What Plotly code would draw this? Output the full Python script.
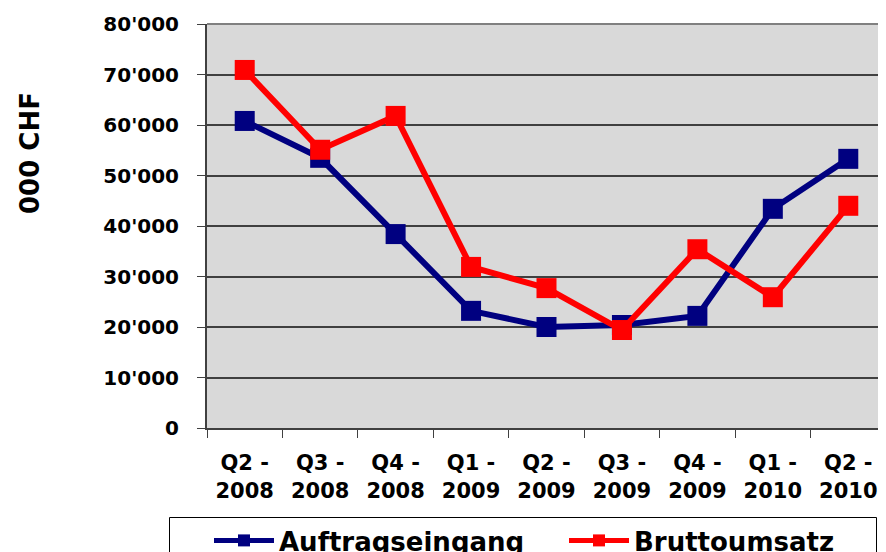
import plotly.graph_objects as go

categories = ["Q2 -<br>2008", "Q3 -<br>2008", "Q4 -<br>2008", "Q1 -<br>2009", "Q2 -<br>2009",
              "Q3 -<br>2009", "Q4 -<br>2009", "Q1 -<br>2010", "Q2 -<br>2010"]
auftragseingang = [60800, 53500, 38400, 23200, 20000, 20400, 22200, 43400, 53300]
bruttoumsatz = [70900, 55100, 61800, 31900, 27700, 19400, 35400, 25900, 44000]
y_ticks = [0, 10000, 20000, 30000, 40000, 50000, 60000, 70000, 80000]
y_tick_labels = ["0", "10'000", "20'000", "30'000", "40'000", "50'000", "60'000", "70'000", "80'000"]

FONT = "DejaVu Sans"
OFF = 8  # default page body margin
W, H = 886 - OFF, 552 - OFF
L, T = 207 - OFF, 24 - OFF
B = H - (428 - OFF)
plot_w = W - L
plot_h = H - T - B


def px_x(x):
    return (x - 207) / plot_w


def px_y(y):
    return (428 - y) / plot_h


fig = go.Figure()
fig.add_trace(go.Scatter(x=categories, y=auftragseingang, name="<b>Auftragseingang</b>",
                         mode="lines+markers", legend="legend",
                         line=dict(color="#000080", width=6),
                         marker=dict(symbol="square", size=20, color="#000080")))
fig.add_trace(go.Scatter(x=categories, y=bruttoumsatz, name="<b>Bruttoumsatz</b>",
                         mode="lines+markers", legend="legend2",
                         line=dict(color="#FF0000", width=6),
                         marker=dict(symbol="square", size=20, color="#FF0000")))

legend_common = dict(orientation="h", xanchor="left", y=px_y(517), yanchor="top",
                     borderwidth=0, bgcolor="rgba(0,0,0,0)",
                     font=dict(size=26, family=FONT, color="black"),
                     itemwidth=60, itemsizing="constant")

fig.update_layout(
    width=W, height=H,
    margin=dict(l=L, r=0, t=T, b=B, autoexpand=False),
    paper_bgcolor="white",
    plot_bgcolor="#D9D9D9",
    font=dict(family=FONT, color="black"),
    showlegend=True,
    legend=dict(x=px_x(209), **legend_common),
    legend2=dict(x=px_x(564), **legend_common),
    annotations=[dict(text="<b>000 CHF</b>",
                      x=px_x(30), y=px_y(153),
                      xref="paper", yref="paper", xanchor="center", yanchor="middle",
                      showarrow=False, textangle=-90,
                      font=dict(size=26, family=FONT, color="black"))],
)

fig.update_xaxes(type="category", range=[-0.5, 8.5], showgrid=False,
                 showline=True, linecolor="#404040", linewidth=2,
                 ticks="outside", tickson="boundaries", ticklen=8, tickcolor="#404040",
                 tickfont=dict(size=21, family=FONT, color="black"),
                 ticklabelstandoff=15,
                 tickvals=categories, ticktext=["<b>%s</b>" % c for c in categories])
fig.update_yaxes(range=[0, 80000], tickvals=y_ticks, ticktext=["<b>%s</b>" % t for t in y_tick_labels],
                 showgrid=True, gridcolor="#404040", gridwidth=1.5,
                 showline=True, linecolor="#404040", linewidth=2, mirror=False,
                 ticks="outside", ticklen=8, tickcolor="#404040",
                 tickfont=dict(size=20, family=FONT, color="black"),
                 ticklabelstandoff=14, zeroline=False)
# top border of plot area
fig.add_shape(type="line", xref="paper", yref="paper", x0=0, x1=1, y0=1, y1=1,
              line=dict(color="#808080", width=2))
# legend frame
fig.add_shape(type="rect", xref="paper", yref="paper",
              x0=px_x(169.5), x1=px_x(876.5), y0=px_y(517.5), y1=px_y(600),
              line=dict(color="black", width=1), fillcolor="rgba(0,0,0,0)", layer="above")

fig.write_html("out.html")
